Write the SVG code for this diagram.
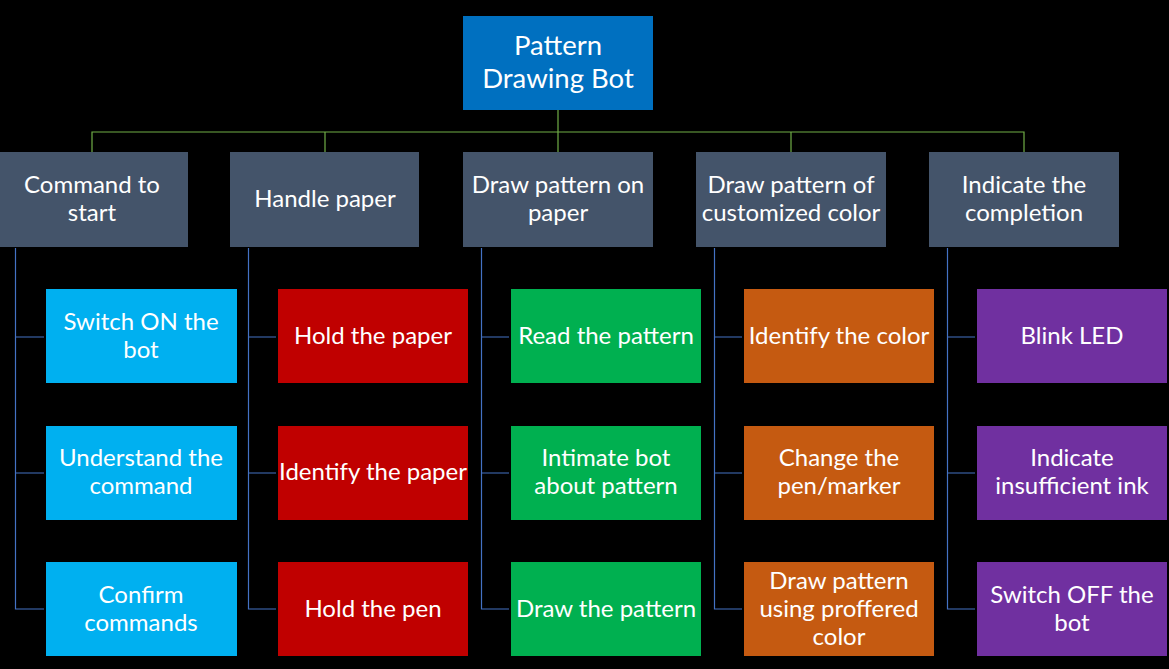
<svg xmlns="http://www.w3.org/2000/svg" width="1169" height="669" viewBox="0 0 1169 669">
<style>
text{font-family:Lato,"Open Sans","DejaVu Sans",sans-serif;fill:#fff;text-anchor:middle;font-size:24px}
.root{font-size:27.5px}
.l1{fill:#44546A}
.c1{fill:#00B0F0}.c2{fill:#C00000}.c3{fill:#00B050}.c4{fill:#C55A11}.c5{fill:#7030A0}
.g{stroke:#70AD47;stroke-width:1.2;fill:none}
.b{stroke:#4472C4;stroke-width:1.2;fill:none}
</style>
<rect width="1169" height="669" fill="#000"/>
<g id="connectors">
<path class="g" d="M558 110V152M92 152V132H1024V152M325 132V152M791 132V152"/>
<path class="b" d="M15.5 248V609H44M15.5 337H44M15.5 473H44"/>
<path class="b" d="M248.5 248V609H276M248.5 337H276M248.5 473H276"/>
<path class="b" d="M481.5 248V609H509M481.5 337H509M481.5 473H509"/>
<path class="b" d="M714.5 248V609H742M714.5 337H742M714.5 473H742"/>
<path class="b" d="M947.5 248V609H975M947.5 337H975M947.5 473H975"/>
</g>
<g id="root"><rect x="463" y="16" width="190" height="94" fill="#0070C0"/><text class="root" x="558" y="55">Pattern</text><text class="root" x="558" y="88">Drawing Bot</text></g>
<g id="n1"><rect class="l1" x="0" y="152" width="188" height="95"/><text x="92" y="193">Command to</text><text x="92" y="221">start</text></g>
<g id="n2"><rect class="l1" x="230" y="152" width="189" height="95"/><text x="325" y="207">Handle paper</text></g>
<g id="n3"><rect class="l1" x="463" y="152" width="190" height="95"/><text x="558" y="193">Draw pattern on</text><text x="558" y="221">paper</text></g>
<g id="n4"><rect class="l1" x="696" y="152" width="190" height="95"/><text x="791" y="193">Draw pattern of</text><text x="791" y="221">customized color</text></g>
<g id="n5"><rect class="l1" x="929" y="152" width="190" height="95"/><text x="1024" y="193">Indicate the</text><text x="1024" y="221">completion</text></g>

<g id="n1a"><rect class="c1" x="46" y="289" width="191" height="94"/><text x="141" y="330">Switch ON the</text><text x="141" y="358">bot</text></g>
<g id="n1b"><rect class="c1" x="46" y="426" width="191" height="94"/><text x="141" y="466">Understand the</text><text x="141" y="494">command</text></g>
<g id="n1c"><rect class="c1" x="46" y="562" width="191" height="94"/><text x="141" y="603">Confirm</text><text x="141" y="631">commands</text></g>

<g id="n2a"><rect class="c2" x="278" y="289" width="190" height="94"/><text x="373" y="344">Hold the paper</text></g>
<g id="n2b"><rect class="c2" x="278" y="426" width="190" height="94"/><text x="373" y="480">Identify the paper</text></g>
<g id="n2c"><rect class="c2" x="278" y="562" width="190" height="94"/><text x="373" y="617">Hold the pen</text></g>

<g id="n3a"><rect class="c3" x="511" y="289" width="190" height="94"/><text x="606" y="344">Read the pattern</text></g>
<g id="n3b"><rect class="c3" x="511" y="426" width="190" height="94"/><text x="606" y="466">Intimate bot</text><text x="606" y="494">about pattern</text></g>
<g id="n3c"><rect class="c3" x="511" y="562" width="190" height="94"/><text x="606" y="617">Draw the pattern</text></g>

<g id="n4a"><rect class="c4" x="744" y="289" width="190" height="94"/><text x="839" y="344">Identify the color</text></g>
<g id="n4b"><rect class="c4" x="744" y="426" width="190" height="94"/><text x="839" y="466">Change the</text><text x="839" y="494">pen/marker</text></g>
<g id="n4c"><rect class="c4" x="744" y="562" width="190" height="94"/><text x="839" y="589">Draw pattern</text><text x="839" y="617">using proffered</text><text x="839" y="645">color</text></g>

<g id="n5a"><rect class="c5" x="977" y="289" width="190" height="94"/><text x="1072" y="344">Blink LED</text></g>
<g id="n5b"><rect class="c5" x="977" y="426" width="190" height="94"/><text x="1072" y="466">Indicate</text><text x="1072" y="494">insufficient ink</text></g>
<g id="n5c"><rect class="c5" x="977" y="562" width="190" height="94"/><text x="1072" y="603">Switch OFF the</text><text x="1072" y="631">bot</text></g>
</svg>
